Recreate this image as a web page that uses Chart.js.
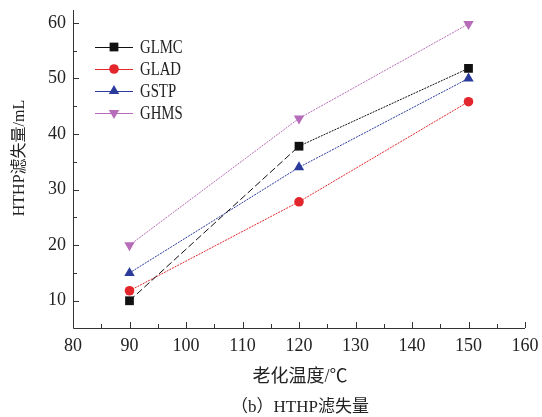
<!DOCTYPE html>
<html>
<head>
<meta charset="utf-8">
<script src="https://cdn.jsdelivr.net/npm/chart.js@4"></script>
<style>
  html, body { margin: 0; padding: 0; background: #fff; }
  canvas { display: block; }
</style>
</head>
<body>
<canvas id="c" width="542" height="417"></canvas>
<script>
// ── Data ──────────────────────────────────────────────────────────────────
const temps  = [90, 120, 150];
const glmc   = [10, 37.8, 51.8];
const glad   = [11.8, 27.8, 45.8];
const gstp   = [15, 34, 50];
const ghms   = [20, 42.8, 59.8];

const xTicks = [80, 90, 100, 110, 120, 130, 140, 150, 160];
const yTicks = [10, 20, 30, 40, 50, 60];

const xTitle  = '老化温度/℃';
const yTitle  = 'HTHP滤失量/mL';
const caption = '（b）HTHP滤失量';

const SERIF = '"Liberation Serif", "DejaVu Serif", serif';
const CJK   = '"Liberation Serif", "Noto Sans CJK SC", serif';

const pts = (ys) => temps.map((t, i) => ({ x: t, y: ys[i] }));

const series = [
  { label: 'GLMC', data: pts(glmc), color: '#111111', style: 'rect',     radius: 6.2, rot: 0 },
  { label: 'GLAD', data: pts(glad), color: '#e3262c', style: 'circle',   radius: 4.8, rot: 0 },
  { label: 'GSTP', data: pts(gstp), color: '#2b3b9c', style: 'triangle', radius: 6,   rot: 0 },
  { label: 'GHMS', data: pts(ghms), color: '#b66cb8', style: 'triangle', radius: 6,   rot: 180 },
];

const datasets = series.map((s, i) => ({
  label: s.label,
  data: s.data,
  borderColor: s.color,
  backgroundColor: s.color,
  borderWidth: 1,
  borderDash: [2, 1],
  pointStyle: s.style,
  pointRadius: s.radius,
  pointRotation: s.rot,
  pointBorderWidth: 0,
  tension: 0,
  segment: i === 0 ? {
    borderDash: (ctx) => ctx.p0DataIndex === 0 ? [7, 3] : [2, 1],
  } : undefined,
}));

// ── Axes, ticks, legend, titles ───────────────────────────────────────────
const decor = {
  id: 'decor',
  afterDraw(chart) {
    const { ctx, chartArea: a, scales: { x, y } } = chart;
    ctx.save();
    ctx.strokeStyle = '#333';
    ctx.lineWidth = 1;
    ctx.setLineDash([]);
    ctx.beginPath();
    ctx.moveTo(a.left + 0.5, a.top);
    ctx.lineTo(a.left + 0.5, a.bottom + 0.5);
    ctx.lineTo(a.right, a.bottom + 0.5);
    ctx.stroke();

    // inward ticks, major every 10, minor every 5
    ctx.beginPath();
    for (let v = 80; v <= 160; v += 5) {
      const px = Math.round(x.getPixelForValue(v)) + 0.5;
      const len = v % 10 === 0 ? 6 : 4;
      ctx.moveTo(px, a.bottom);
      ctx.lineTo(px, a.bottom - len);
    }
    for (let v = 10; v <= 60; v += 5) {
      const py = Math.round(y.getPixelForValue(v)) + 0.5;
      const len = v % 10 === 0 ? 6 : 4;
      ctx.moveTo(a.left, py);
      ctx.lineTo(a.left + len, py);
    }
    ctx.stroke();

    // legend
    const lx0 = 95, lx1 = 133, tx = 140;
    chart.data.datasets.forEach((ds, i) => {
      const s = series[i];
      const ly = 47 + i * 22;
      ctx.strokeStyle = s.color;
      ctx.lineWidth = 1.2;
      ctx.beginPath();
      ctx.moveTo(lx0, ly + 0.5);
      ctx.lineTo(lx1, ly + 0.5);
      ctx.stroke();
      ctx.fillStyle = s.color;
      Chart.helpers.drawPoint(ctx, {
        pointStyle: s.style, radius: s.radius, rotation: s.rot, borderWidth: 0,
      }, (lx0 + lx1) / 2, ly);
      ctx.save();
      ctx.translate(tx, ly);
      ctx.scale(0.82, 1);
      ctx.fillStyle = '#222';
      ctx.font = '18px ' + SERIF;
      ctx.textBaseline = 'middle';
      ctx.textAlign = 'left';
      ctx.fillText(ds.label, 0, 1);
      ctx.restore();
    });

    // titles
    ctx.fillStyle = '#222';
    ctx.textAlign = 'center';
    ctx.textBaseline = 'middle';
    ctx.font = '18px ' + CJK;
    ctx.fillText(xTitle, 300, 377);
    ctx.font = '17px ' + CJK;
    ctx.fillText(caption, 300, 408);
    ctx.save();
    ctx.translate(20, 158);
    ctx.rotate(-Math.PI / 2);
    ctx.font = '16px ' + CJK;
    ctx.fillText(yTitle, 0, 0);
    ctx.restore();
    ctx.restore();
  },
};

new Chart(document.getElementById('c'), {
  type: 'line',
  data: { datasets },
  plugins: [decor],
  options: {
    responsive: false,
    animation: false,
    devicePixelRatio: 1,
    layout: { padding: { left: 0, right: 17, top: 10, bottom: 0 } },
    plugins: { legend: { display: false }, tooltip: { enabled: false } },
    scales: {
      x: {
        type: 'linear',
        min: 80, max: 160,
        afterBuildTicks: (s) => { s.ticks = xTicks.map(v => ({ value: v })); },
        afterFit: (s) => { s.height = 89; s.paddingLeft = 0; s.paddingRight = 0; },
        grid: { display: false, drawTicks: false },
        border: { display: false },
        ticks: { color: '#222', padding: 7, font: { family: SERIF, size: 18 } },
      },
      y: {
        min: 5.1, max: 62.3,
        afterBuildTicks: (s) => { s.ticks = yTicks.map(v => ({ value: v })); },
        afterFit: (s) => { s.width = 73; s.paddingTop = 0; s.paddingBottom = 0; },
        grid: { display: false, drawTicks: false },
        border: { display: false },
        ticks: { color: '#222', padding: 7, font: { family: SERIF, size: 18 } },
      },
    },
  },
});
</script>
</body>
</html>
